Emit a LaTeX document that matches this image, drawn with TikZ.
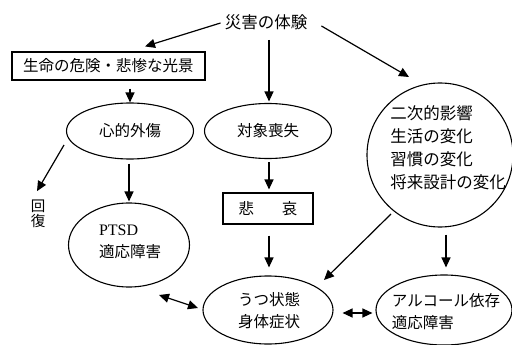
\documentclass[tikz,border=0pt]{standalone}
\usepackage{fontspec}
\setmainfont{Liberation Serif}
\newfontfamily\jp{Noto Sans CJK JP}
\usetikzlibrary{shapes.geometric,arrows.meta,calc}
\begin{document}
\begin{tikzpicture}[x=1pt,y=-1pt,
  txt/.style={font=\jp\fontsize{15.5}{22}\selectfont, inner sep=0pt, align=left},
  oval/.style={draw, ellipse, line width=1.1pt, inner sep=0pt, font=\jp\fontsize{15.5}{22}\selectfont},
  boxn/.style={draw, rectangle, line width=1.1pt, inner sep=0pt, font=\jp\fontsize{15.5}{22}\selectfont},
  tip/.tip={Triangle[length=10pt,width=9pt]},
  arr/.style={line width=1.2pt, -tip},
  darr/.style={line width=1.2pt, tip-tip}]
\useasboundingbox (0,0) rectangle (512,345);
% nodes
\node[txt, font=\jp\fontsize{16.5}{22}\selectfont] (title) at (266,22) {災害の体験};
\node[boxn, minimum width=193pt, minimum height=28pt] (life) at (108.5,66) {生命の危険・悲惨な光景};
\node[oval, minimum width=127pt, minimum height=56pt] (trauma) at (130,131) {心的外傷};
\node[oval, minimum width=127pt, minimum height=55pt] (loss) at (268,131) {対象喪失};
\node[oval, minimum width=146pt, minimum height=144pt] (sec) at (440,155) {};
\node[txt, font=\jp\fontsize{16.5}{23}\selectfont] (secT) at (448,148) {二次的影響\\生活の変化\\習慣の変化\\将来設計の変化};
\node[txt, align=center, font=\jp\fontsize{14.5}{14.5}\selectfont] (recov) at (38,214) {回\\復};
\node[oval, minimum width=121pt, minimum height=84pt] (ptsd) at (129,245) {};
\node[txt] (ptsdT) at (130,242) {{\rmfamily\fontsize{16}{22}\selectfont PTSD}\\適応障害};
\node[boxn, minimum width=90pt, minimum height=31pt] (grief) at (268,208.5) {悲\hspace{28pt}哀};
\node[oval, minimum width=130pt, minimum height=68pt] (depr) at (268,310) {};
\node[txt] (deprT) at (269,311) {うつ状態\\身体症状};
\node[oval, minimum width=136pt, minimum height=70pt] (alc) at (444,310) {};
\node[txt] (alcT) at (446,312) {アルコール依存\\適応障害};
% connectors
\draw[arr] ($(title.west)+(-4,1)$) -- ($(life.north)+(36.5,-5)$);
\draw[arr] ($(title.south)+(3,10)$) -- ($(loss.north)+(1,-1.5)$);
\draw[arr] ($(title.east)+(14,4)$) -- ($(sec.center)+(-31,-78)$);
\draw[arr] ($(life.south)+(21.5,8)$) -- (trauma.north);
\draw[arr] ($(trauma.center)+(-66,14)$) -- ($(recov.north)+(-1,-9)$);
\draw[arr] ($(trauma.south)+(-1,4)$) -- ($(ptsd.north)+(0,-1)$);
\draw[arr] ($(loss.south)+(1,3)$) -- ($(grief.north)+(1,-3)$);
\draw[arr] ($(grief.south)+(1,11)$) -- ($(depr.north)+(1,-8)$);
\draw[arr] ($(sec.center)+(-49,59)$) -- ($(depr.center)+(56,-30)$);
\draw[arr] ($(sec.south)+(6,7)$) -- ($(alc.north)+(2,-7)$);
\draw[darr] ($(ptsd.center)+(30,50)$) -- ($(depr.center)+(-70,-2)$);
\draw[darr] ($(depr.east)+(9,3)$) -- ($(alc.west)+(-3,3)$);
\end{tikzpicture}
\end{document}
